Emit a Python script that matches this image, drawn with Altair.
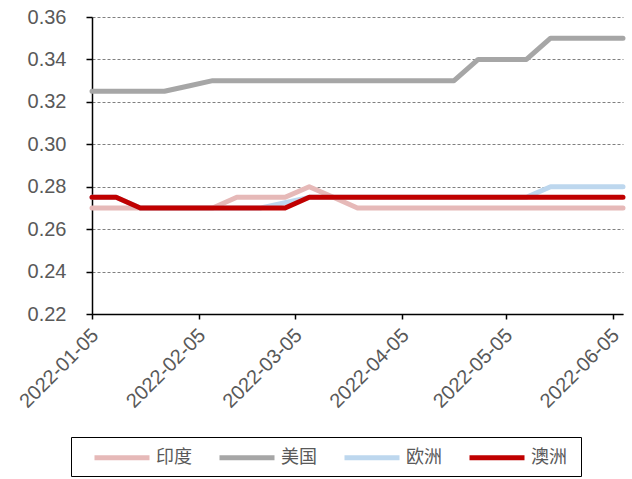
import altair as alt
import pandas as pd

dates = [
    "2022-01-05", "2022-01-12", "2022-01-19", "2022-01-26", "2022-02-02",
    "2022-02-09", "2022-02-16", "2022-02-23", "2022-03-02", "2022-03-09",
    "2022-03-16", "2022-03-23", "2022-03-30", "2022-04-06", "2022-04-13",
    "2022-04-20", "2022-04-27", "2022-05-04", "2022-05-11", "2022-05-18",
    "2022-05-25", "2022-06-01", "2022-06-08",
]
india = [0.27, 0.27, 0.27, 0.27, 0.27, 0.27, 0.275, 0.275, 0.275, 0.28,
         0.275, 0.27, 0.27, 0.27, 0.27, 0.27, 0.27, 0.27, 0.27, 0.27,
         0.27, 0.27, 0.27]
usa = [0.325, 0.325, 0.325, 0.325, 0.3275, 0.33, 0.33, 0.33, 0.33, 0.33,
       0.33, 0.33, 0.33, 0.33, 0.33, 0.33, 0.34, 0.34, 0.34, 0.35,
       0.35, 0.35, 0.35]
europe = [0.275, 0.275, 0.27, 0.27, 0.27, 0.27, 0.27, 0.27, 0.2725, 0.275,
          0.275, 0.275, 0.275, 0.275, 0.275, 0.275, 0.275, 0.275, 0.275, 0.28,
          0.28, 0.28, 0.28]
australia = [0.275, 0.275, 0.27, 0.27, 0.27, 0.27, 0.27, 0.27, 0.27, 0.275,
             0.275, 0.275, 0.275, 0.275, 0.275, 0.275, 0.275, 0.275, 0.275, 0.275,
             0.275, 0.275, 0.275]

series_names = ["印度", "美国", "欧洲", "澳洲"]
series_colors = ["#E6B9B8", "#A6A6A6", "#BDD7EE", "#C00000"]
series_values = [india, usa, europe, australia]

y_ticks = [0.22, 0.24, 0.26, 0.28, 0.30, 0.32, 0.34, 0.36]
x_tick_dates = [(2022, 1, 5), (2022, 2, 5), (2022, 3, 5), (2022, 4, 5), (2022, 5, 5), (2022, 6, 5)]

rows = []
for name, vals in zip(series_names, series_values):
    for d, v in zip(dates, vals):
        rows.append({"date": d, "value": v, "series": name})
df = pd.DataFrame(rows)

x_enc = alt.X(
    "date:T",
    scale=alt.Scale(type="utc", domain=[alt.DateTime(year=2022, month=1, date=5, utc=True),
                                        alt.DateTime(year=2022, month=6, date=8, utc=True)]),
    axis=alt.Axis(
        title=None,
        values=[alt.DateTime(year=y, month=m, date=d, utc=True) for (y, m, d) in x_tick_dates],
        format="%Y-%m-%d",
        labelAngle=-45,
        labelAlign="right",
        labelBaseline="middle",
        labelPadding=13,
        labelOffset=3,
        labelFont="Liberation Sans",
        labelFontSize=20,
        labelColor="#595959",
        labelOverlap=False,
        labelFlush=False,
        labelBound=False,
        domainColor="black",
        domainWidth=1.5,
        tickColor="black",
        tickWidth=1.5,
        tickSize=5,
        grid=False,
    ),
)
y_enc = alt.Y(
    "value:Q",
    scale=alt.Scale(domain=[0.22, 0.36], nice=False, zero=False),
    axis=alt.Axis(
        title=None,
        values=y_ticks,
        format=".2f",
        labelFont="Liberation Sans",
        labelFontSize=20,
        labelColor="#595959",
        labelPadding=20,
        labelFlush=False,
        domainColor="black",
        domainWidth=1.5,
        tickColor="black",
        tickWidth=1.5,
        tickSize=6,
        grid=True,
        gridColor="#808080",
        gridDash=[3, 2],
        gridWidth=1,
    ),
)
color_enc = alt.Color(
    "series:N",
    scale=alt.Scale(domain=series_names, range=series_colors),
    legend=alt.Legend(
        title=" ",
        titleOrient="right",
        titlePadding=6,
        titleFontSize=18,
        orient="none",
        legendX=-21,
        legendY=420,
        direction="horizontal",
        symbolType="M0.3,0H5.8",
        symbolSize=400,
        symbolStrokeWidth=5,
        labelFont="Noto Sans CJK SC",
        labelFontSize=18,
        labelColor="#595959",
        labelOffset=52,
        columnPadding=12,
        padding=8,
        strokeColor="black",
    ),
)

layers = []
for name in series_names:
    layers.append(
        alt.Chart(df)
        .transform_filter(alt.datum.series == name)
        .mark_line(strokeWidth=5, strokeCap="round", strokeJoin="round")
        .encode(x=x_enc, y=y_enc, color=color_enc)
    )

chart = (
    alt.layer(*layers)
    .properties(
        width=531,
        height=297,
        autosize=alt.AutoSizeParams(type="none"),
        padding={"left": 92, "top": 17, "right": 9, "bottom": 165},
        background="white",
    )
    .configure_view(strokeWidth=0)
)

chart.save("out.html", embed_options={"renderer": "svg", "actions": False})
